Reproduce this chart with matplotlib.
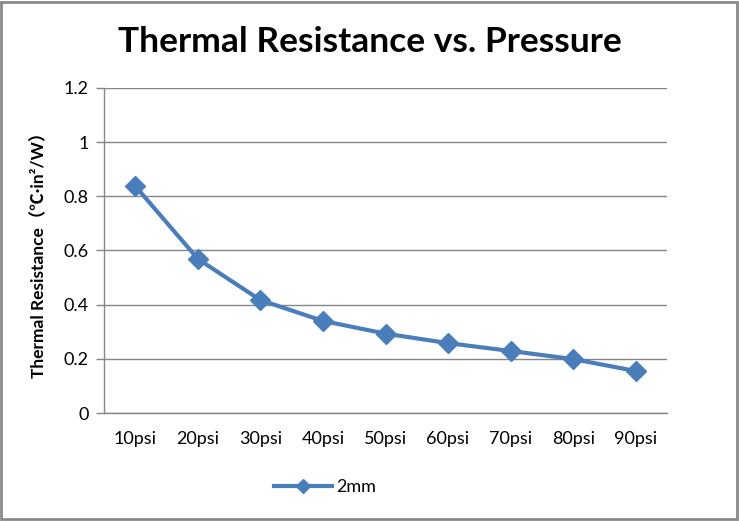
import matplotlib
matplotlib.use("Agg")
import matplotlib.pyplot as plt
from matplotlib.patches import Rectangle

categories = ["10psi", "20psi", "30psi", "40psi", "50psi", "60psi", "70psi", "80psi", "90psi"]
values_2mm = [0.838, 0.569, 0.417, 0.340, 0.293, 0.258, 0.229, 0.199, 0.155]
yticks = [0, 0.2, 0.4, 0.6, 0.8, 1, 1.2]
ytick_labels = ["0", "0.2", "0.4", "0.6", "0.8", "1", "1.2"]

plt.rcParams['font.family'] = ['Lato', 'Noto Sans CJK SC', 'DejaVu Sans']

fig = plt.figure(figsize=(7.39, 5.21), dpi=100)
ax = fig.add_axes([104/739, 1-413/521, (667-104)/739, (413-88)/521])

blue = "#4a7ebb"
x = list(range(len(categories)))
ax.plot(x, values_2mm, color=blue, linewidth=3, marker="D", markersize=10,
        markerfacecolor=blue, markeredgecolor=blue, label="2mm", zorder=3)

ax.set_xlim(-0.5, len(categories) - 0.5)
ax.set_ylim(0, 1.2)
ax.set_yticks(yticks)
ax.set_yticklabels(ytick_labels)
ax.set_xticks(x)
ax.set_xticklabels(categories)
ax.grid(axis="y", color="#868686", linewidth=1)
ax.set_axisbelow(True)
for s in ["top", "right"]:
    ax.spines[s].set_visible(False)
for s in ["left", "bottom"]:
    ax.spines[s].set_color("#868686")
    ax.spines[s].set_linewidth(1)
ax.tick_params(axis="y", length=6, width=1, color="#868686", direction="out", labelsize=13, pad=5)
ax.tick_params(axis="x", length=0, labelsize=13, pad=13)

ax.set_ylabel("Thermal Resistance（℃·in²/W）", fontsize=12.5, fontweight="bold", labelpad=12)

fig.text(0.5, 1 - 42/521, "Thermal Resistance vs. Pressure", ha="center", va="center",
         fontsize=25.5, fontweight="bold")

leg = fig.legend(loc="center", bbox_to_anchor=(325/739, 1 - 487/521), frameon=False,
                 fontsize=13, handlelength=3.2, handletextpad=0.2, markerscale=0.75)

fig.patches.append(Rectangle((0.002, 0.003), 0.995, 0.994, transform=fig.transFigure,
                             fill=False, edgecolor="#898989", linewidth=2))

fig.savefig("out.png", dpi=100)
